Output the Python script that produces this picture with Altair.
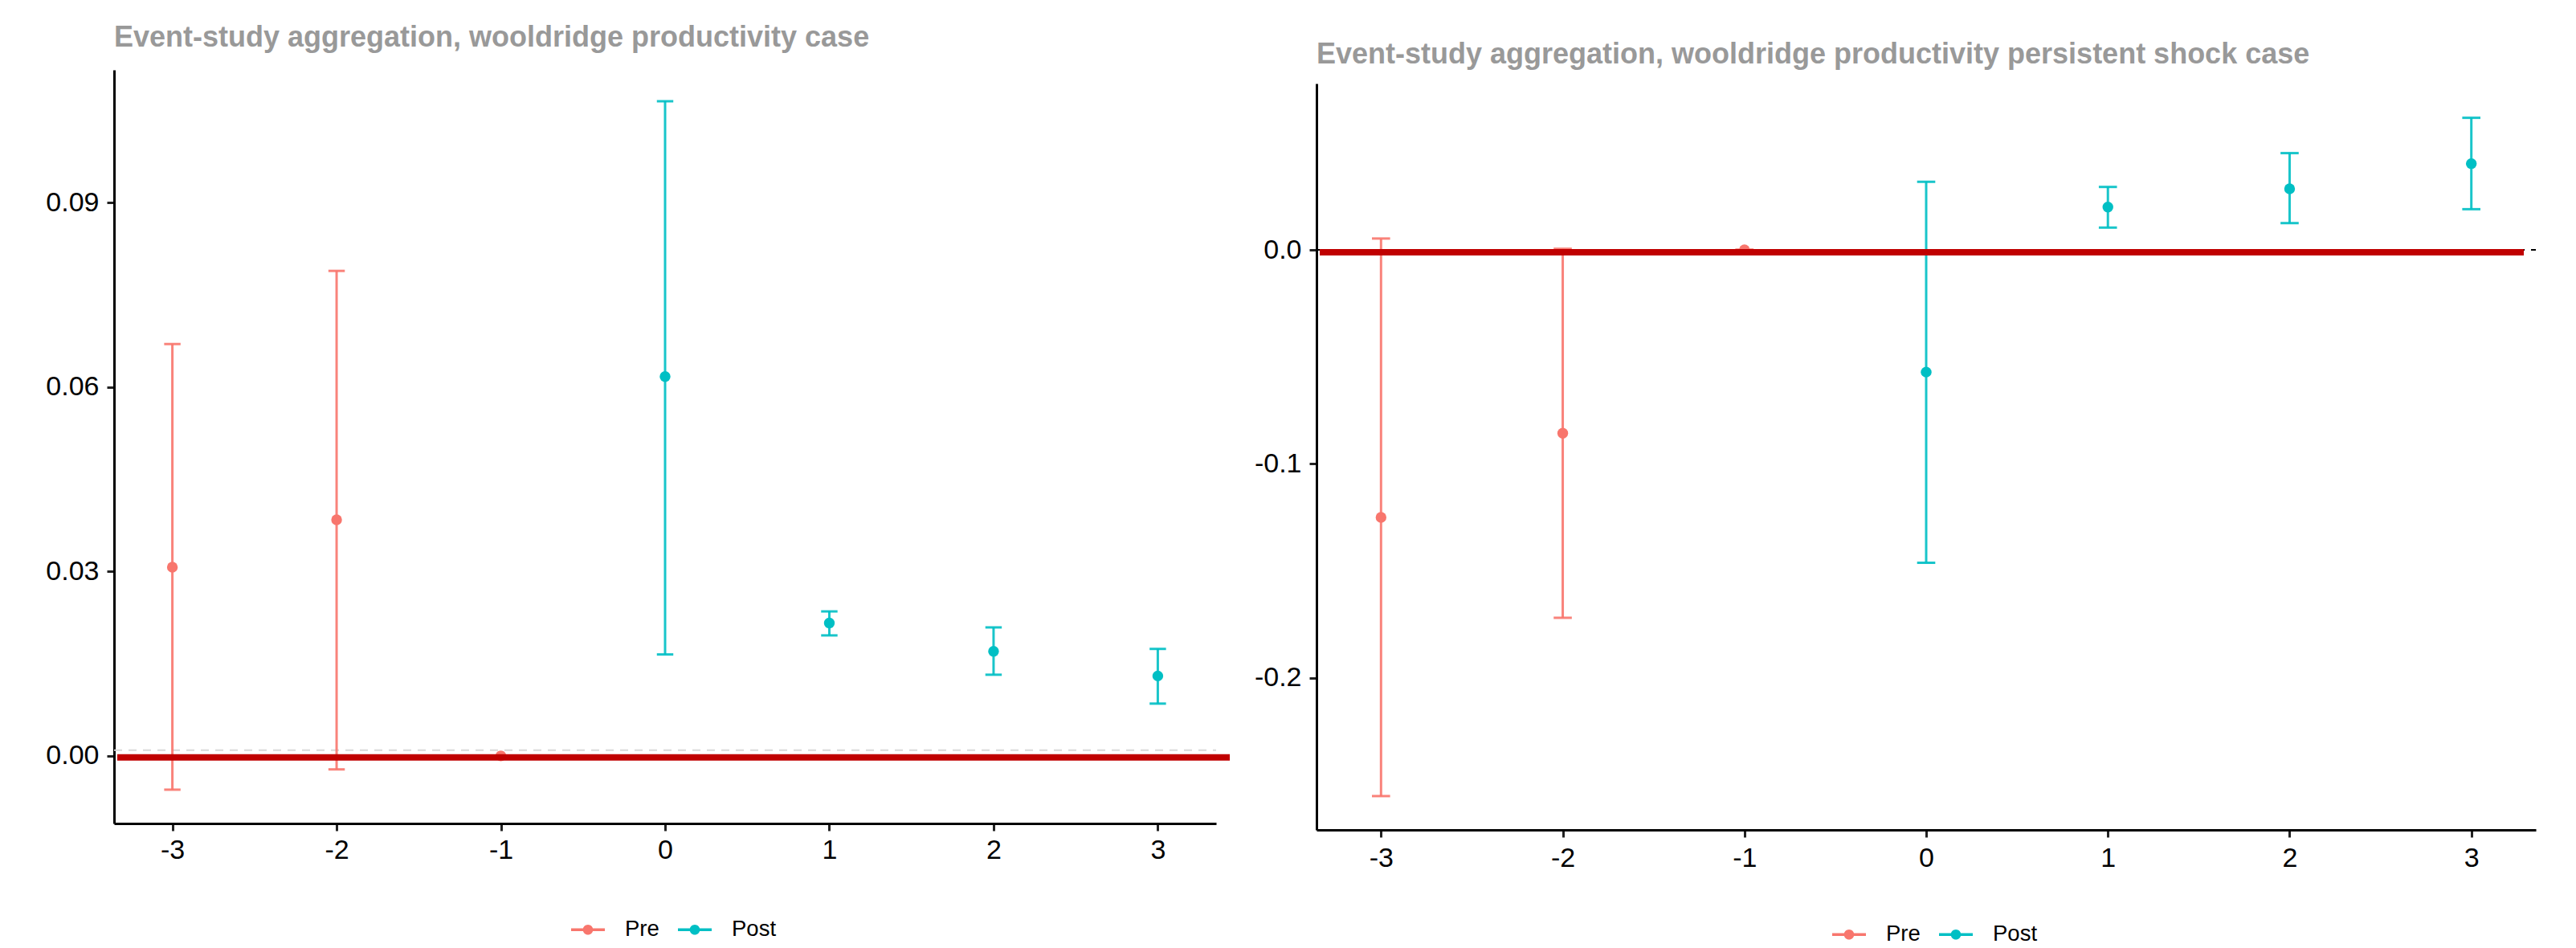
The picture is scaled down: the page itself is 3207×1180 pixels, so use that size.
import altair as alt
import pandas as pd

# ---- data ----
event_time = [-3, -2, -1, 0, 1, 2, 3]
period = ["Pre", "Pre", "Pre", "Post", "Post", "Post", "Post"]

left_est = [0.0307, 0.0384, 0.0, 0.0617, 0.0216, 0.0170, 0.0130]
left_lo = [-0.0055, -0.0022, 0.0, 0.0165, 0.0196, 0.0132, 0.0085]
left_hi = [0.0670, 0.0789, 0.0, 0.1065, 0.0235, 0.0209, 0.0174]

right_est = [-0.1250, -0.0857, 0.0, -0.0571, 0.0200, 0.0285, 0.0403]
right_lo = [-0.2552, -0.1719, 0.0, -0.1462, 0.0104, 0.0125, 0.0190]
right_hi = [0.0053, 0.0005, 0.0, 0.0318, 0.0294, 0.0452, 0.0617]

left_title = "Event-study aggregation, wooldridge productivity case"
right_title = "Event-study aggregation, wooldridge productivity persistent shock case"

group_order = ["Pre", "Post"]
group_colors = ["#F8766D", "#00BFC4"]

x_ticks = [-3, -2, -1, 0, 1, 2, 3]
left_y_ticks = [0.0, 0.03, 0.06, 0.09]
right_y_ticks = [-0.2, -0.1, 0.0]
zero_line = [0.0]

FONT = "Liberation Sans"
LABEL_SIZE = 34
HYPHEN = "replace(datum.label, '\u2212', '-')"
LEGEND_SYMBOL = ("M-1,-0.08H1V0.08H-1Z "
                 "M0.3,0A0.3,0.3 0 1,1 -0.3,0A0.3,0.3 0 1,1 0.3,0Z")


def panel(est, lo, hi, title, width, height, top_gap, ydomain, yticks, yfmt,
          title_offset, legend_x, legend_y, red_x2, red_off,
          dash_color, dash_off, xlab_pad):
    df = pd.DataFrame({"t": event_time, "group": period,
                       "est": est, "lo": lo, "hi": hi})
    zdf = pd.DataFrame({"est": zero_line})

    xscale = alt.Scale(domain=[-3.355, 3.355], nice=False, zero=False)
    yscale = alt.Scale(domain=ydomain, nice=False, zero=False,
                       range=[height, top_gap])
    xaxis = alt.Axis(values=x_ticks, format="d", title=None, labelPadding=xlab_pad,
                     labelFontSize=LABEL_SIZE, labelFont=FONT, labelExpr=HYPHEN)
    yaxis = alt.Axis(values=yticks, format=yfmt, title=None, labelPadding=10,
                     labelFontSize=LABEL_SIZE, labelFont=FONT, labelExpr=HYPHEN)
    cscale = alt.Scale(domain=group_order, range=group_colors)

    base = alt.Chart(df)

    dashed = alt.Chart(zdf).mark_rule(
        strokeDash=[10, 8], strokeWidth=2, color=dash_color, yOffset=dash_off
    ).encode(
        y=alt.Y("est:Q", scale=yscale, axis=yaxis),
        x=alt.value(0), x2=alt.value(width),
    )

    bars = base.mark_rule(strokeWidth=3, opacity=0.9).encode(
        x=alt.X("t:Q", scale=xscale, axis=xaxis),
        y=alt.Y("lo:Q", scale=yscale, axis=yaxis),
        y2="hi:Q",
        stroke=alt.Stroke("group:N", scale=cscale, legend=None),
    )

    caps = base.transform_fold(
        ["lo", "hi"], as_=["end", "val"]
    ).transform_calculate(
        xa="datum.t - 0.05", xb="datum.t + 0.05"
    ).mark_rule(strokeWidth=3, opacity=0.9).encode(
        x=alt.X("xa:Q", scale=xscale, axis=xaxis),
        x2="xb:Q",
        y=alt.Y("val:Q", scale=yscale, axis=yaxis),
        stroke=alt.Stroke("group:N", scale=cscale, legend=None),
    )

    points = base.mark_point(filled=True, size=180, opacity=1).encode(
        x=alt.X("t:Q", scale=xscale, axis=xaxis),
        y=alt.Y("est:Q", scale=yscale, axis=yaxis),
        color=alt.Color(
            "group:N", scale=cscale,
            legend=alt.Legend(
                title=None, orient="none", legendX=legend_x, legendY=legend_y,
                direction="horizontal", symbolType=LEGEND_SYMBOL,
                symbolSize=1764, symbolStrokeWidth=0, symbolOpacity=1,
                labelFont=FONT, labelFontSize=27.5, labelColor="black",
                labelOffset=25, columnPadding=23, padding=0,
            ),
        ),
    )

    red = alt.Chart(zdf).mark_rule(
        color="#C00000", strokeWidth=8, yOffset=red_off
    ).encode(
        y=alt.Y("est:Q", scale=yscale, axis=yaxis),
        x=alt.value(4), x2=alt.value(red_x2),
    )

    return alt.layer(dashed, bars, caps, points, red).properties(
        width=width, height=height,
        title=alt.Title(
            title, anchor="start", frame="group", font=FONT, fontSize=36,
            fontWeight="bold", color="#999999", offset=title_offset,
        ),
    )


left = panel(left_est, left_lo, left_hi, left_title, 1372, 938, 0,
             [-0.011, 0.1116], left_y_ticks, ".2f",
             21, 569, 1049, 1389, 2, "#d8d8d8", -7, 7)
right = panel(right_est, right_lo, right_hi, right_title, 1518, 946, 17,
              [-0.271, 0.0777], right_y_ticks, ".1f",
              0, 642, 1055, 1503, 3, "#000000", 0, 9)

chart = alt.hconcat(left, right, spacing=26).resolve_legend(
    color="independent"
).properties(
    padding={"left": 48, "top": 21, "right": 0, "bottom": 0},
    background="white",
).configure_view(stroke=None).configure_axis(
    domainColor="black", domainWidth=3, tickColor="#222222", tickWidth=3,
    tickSize=9, labelFont=FONT, labelFontSize=LABEL_SIZE, labelColor="black",
    grid=False,
)

chart.save("out.html", embed_options={"renderer": "svg", "actions": False})
